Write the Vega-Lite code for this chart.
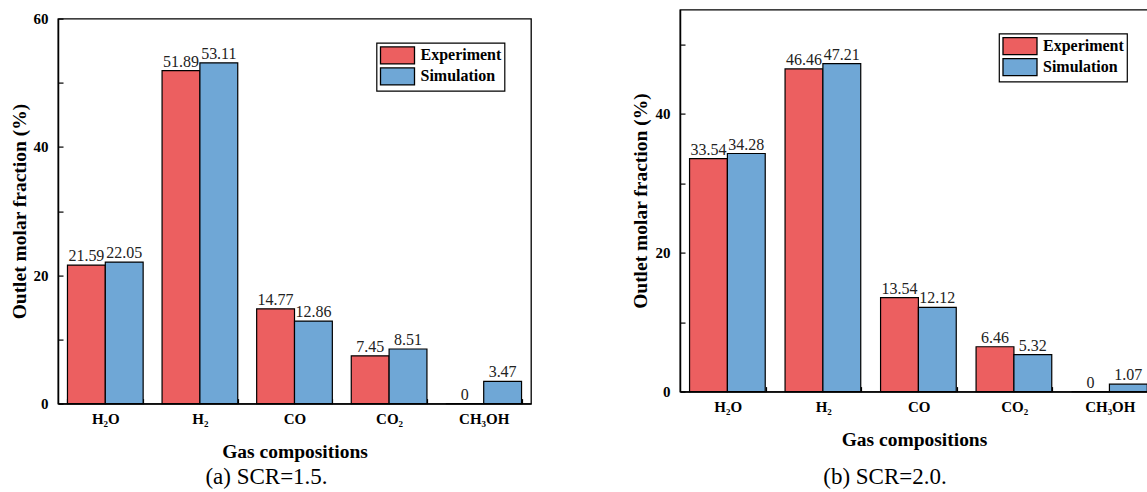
{
  "$schema": "https://vega.github.io/schema/vega-lite/v6.json",
  "background": "white",
  "padding": {"left": 8, "top": 8.6, "right": 0, "bottom": 0},
  "spacing": 98,
  "config": {
    "font": "Liberation Serif",
    "view": {"stroke": "black", "strokeWidth": 1.3},
    "axis": {
      "grid": false,
      "domainColor": "black",
      "domainWidth": 1.5,
      "tickColor": "black",
      "tickWidth": 1.2,
      "tickSize": -5,
      "labelColor": "black",
      "labelFont": "Liberation Serif",
      "labelFontWeight": "bold",
      "labelFontSize": 15,
      "titleFont": "Liberation Serif",
      "titleFontWeight": "bold",
      "titleFontSize": 19.5,
      "titleColor": "black"
    },
    "legend": {
      "orient": "none",
      "title": null,
      "padding": 3,
      "strokeColor": "black",
      "fillColor": "white",
      "strokeWidth": 1.2,
      "symbolType": "M-1,-1H3V1H-1Z",
      "symbolSize": 289,
      "symbolStrokeColor": "black",
      "symbolStrokeWidth": 1.3,
      "symbolOpacity": 1,
      "labelOffset": 22,
      "rowPadding": -2.3,
      "labelFont": "Liberation Serif",
      "labelFontWeight": "bold",
      "labelFontSize": 16,
      "labelColor": "black"
    },
    "title": {
      "font": "Liberation Serif",
      "fontSize": 23,
      "fontWeight": "normal",
      "color": "black"
    }
  },
  "resolve": {"legend": {"color": "independent"}, "scale": {"y": "independent"}},
  "hconcat": [
    {
      "spacing": 0,
      "vconcat": [
        {
          "width": 473,
          "height": 1,
          "view": {"stroke": null},
          "data": {"values": [{"gas": "H₂O"}]},
          "mark": {"type": "rule", "opacity": 0},
          "encoding": {}
        },
        {
          "width": 473,
          "height": 385,
          "title": {"text": "(a) SCR=1.5.", "orient": "bottom", "frame": "group", "anchor": "middle", "dx": -28, "offset": 4.5},
          "data": {"values": [
            {"gas": "H₂O", "series": "Experiment", "value": 21.59},
            {"gas": "H₂O", "series": "Simulation", "value": 22.05},
            {"gas": "H₂", "series": "Experiment", "value": 51.89},
            {"gas": "H₂", "series": "Simulation", "value": 53.11},
            {"gas": "CO", "series": "Experiment", "value": 14.77},
            {"gas": "CO", "series": "Simulation", "value": 12.86},
            {"gas": "CO₂", "series": "Experiment", "value": 7.45},
            {"gas": "CO₂", "series": "Simulation", "value": 8.51},
            {"gas": "CH₃OH", "series": "Experiment", "value": 0},
            {"gas": "CH₃OH", "series": "Simulation", "value": 3.47}
          ]},
          "encoding": {
            "x": {
              "field": "gas", "type": "nominal",
              "sort": ["H₂O", "H₂", "CO", "CO₂", "CH₃OH"],
              "scale": {"paddingInner": 0.2, "paddingOuter": 0.1},
              "axis": {"title": "Gas compositions", "labelAngle": 0, "tickBand": "extent", "labelPadding": 13, "titlePadding": 16}
            },
            "xOffset": {"field": "series", "type": "nominal", "sort": ["Experiment", "Simulation"]},
            "y": {
              "field": "value", "type": "quantitative",
              "scale": {"domain": [0, 60], "nice": false},
              "axis": {"title": "Outlet molar fraction (%)", "values": [0, 10, 20, 30, 40, 50, 60], "labelExpr": "datum.value % 20 === 0 ? datum.label : ''", "labelPadding": 15, "titlePadding": 4}
            }
          },
          "layer": [
            {
              "mark": {"type": "bar", "stroke": "black", "strokeWidth": 1.2, "opacity": 1},
              "encoding": {
                "color": {
                  "field": "series", "type": "nominal",
                  "scale": {"domain": ["Experiment", "Simulation"], "range": ["#EC5F60", "#6FA7D6"]},
                  "legend": {"legendX": 318.5, "legendY": 33.3}
                }
              }
            },
            {
              "mark": {"type": "text", "baseline": "alphabetic", "dy": -4, "fontSize": 16, "font": "Liberation Serif", "color": "#222"},
              "encoding": {"text": {"field": "value", "type": "quantitative"}}
            }
          ]
        }
      ]
    },
    {
      "width": 468,
      "height": 382,
      "title": {"text": "(b) SCR=2.0.", "orient": "bottom", "frame": "group", "anchor": "middle", "dx": -29, "offset": 16.5},
      "data": {"values": [
        {"gas": "H₂O", "series": "Experiment", "value": 33.54},
        {"gas": "H₂O", "series": "Simulation", "value": 34.28},
        {"gas": "H₂", "series": "Experiment", "value": 46.46},
        {"gas": "H₂", "series": "Simulation", "value": 47.21},
        {"gas": "CO", "series": "Experiment", "value": 13.54},
        {"gas": "CO", "series": "Simulation", "value": 12.12},
        {"gas": "CO₂", "series": "Experiment", "value": 6.46},
        {"gas": "CO₂", "series": "Simulation", "value": 5.32},
        {"gas": "CH₃OH", "series": "Experiment", "value": 0},
        {"gas": "CH₃OH", "series": "Simulation", "value": 1.07}
      ]},
      "encoding": {
        "x": {
          "field": "gas", "type": "nominal",
          "sort": ["H₂O", "H₂", "CO", "CO₂", "CH₃OH"],
          "scale": {"paddingInner": 0.2, "paddingOuter": 0.05, "align": 1},
          "axis": {"title": "Gas compositions", "labelAngle": 0, "tickBand": "extent", "labelPadding": 13, "titlePadding": 16}
        },
        "xOffset": {"field": "series", "type": "nominal", "sort": ["Experiment", "Simulation"]},
        "y": {
          "field": "value", "type": "quantitative",
          "scale": {"domain": [0, 55], "nice": false},
          "axis": {"title": "Outlet molar fraction (%)", "values": [0, 10, 20, 30, 40, 50], "labelExpr": "datum.value % 20 === 0 ? datum.label : ''", "labelPadding": 15, "titlePadding": 4}
        }
      },
      "layer": [
        {
          "mark": {"type": "bar", "stroke": "black", "strokeWidth": 1.2, "opacity": 1},
          "encoding": {
            "color": {
              "field": "series", "type": "nominal",
              "scale": {"domain": ["Experiment", "Simulation"], "range": ["#EC5F60", "#6FA7D6"]},
              "legend": {"legendX": 319, "legendY": 24}
            }
          }
        },
        {
          "mark": {"type": "text", "baseline": "alphabetic", "dy": -4, "fontSize": 16, "font": "Liberation Serif", "color": "#222"},
          "encoding": {"text": {"field": "value", "type": "quantitative"}}
        }
      ]
    }
  ]
}
